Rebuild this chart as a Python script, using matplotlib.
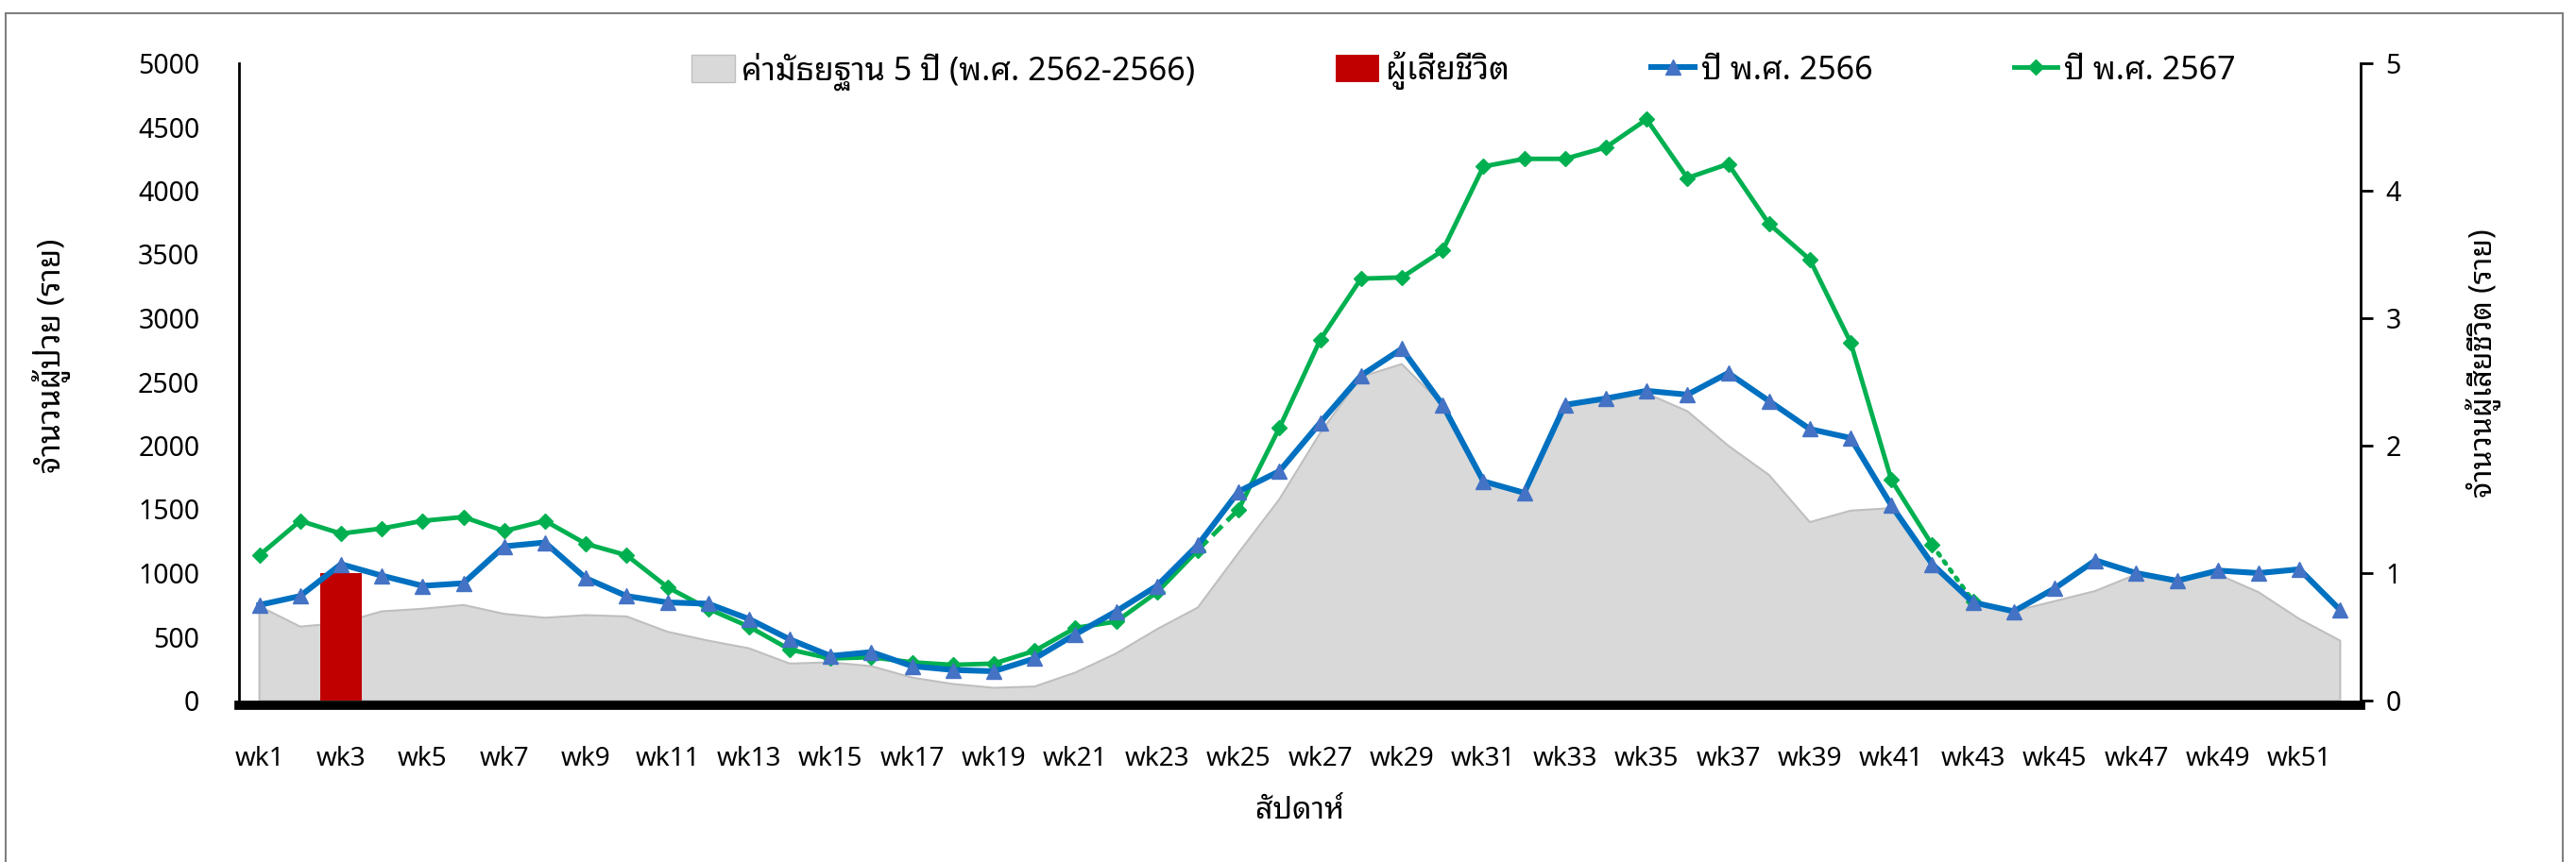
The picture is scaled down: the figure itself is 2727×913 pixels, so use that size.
import matplotlib
matplotlib.use('Agg')
import matplotlib.pyplot as plt
from matplotlib.patches import Rectangle, Patch
from matplotlib.lines import Line2D
import numpy as np

# weeks + data
weeks = ['wk%d' % i for i in range(1, 53)]
median_5y = [740, 580, 610, 700, 720, 750, 680, 650, 670, 660,
             540, 470, 410, 290, 300, 270, 180, 130, 100, 110,
             220, 370, 560, 730, 1160, 1580, 2100, 2540, 2640, 2320,
             1720, 1630, 2320, 2350, 2410, 2270, 2000, 1770, 1400, 1490,
             1510, 1060, 770, 700, 780, 860, 990, 950, 990, 850,
             640, 470]
cases_2566 = [750, 820, 1070, 980, 900, 920, 1210, 1240, 960, 820,
              770, 760, 640, 480, 350, 380, 270, 240, 230, 330,
              520, 700, 900, 1220, 1640, 1800, 2180, 2550, 2760, 2320,
              1720, 1630, 2320, 2370, 2430, 2400, 2570, 2350, 2130, 2060,
              1530, 1070, 770, 700, 880, 1100, 1000, 940, 1020, 1000,
              1030, 710]
cases_2567 = [1140, 1410, 1310, 1350, 1410, 1440, 1330, 1410, 1230, 1140,
              890, 720, 580, 400, 330, 340, 300, 280, 290, 390,
              570, 620, 850, 1180, 1500, 2140, 2830, 3310, 3320, 3530,
              4190, 4250, 4250, 4340, 4560, 4100, 4210, 3740, 3460, 2810,
              1730, 1220, 780]
deaths = [0] * 52
deaths[2] = 1

legend_labels = ['ค่ามัธยฐาน 5 ปี (พ.ศ. 2562-2566)', 'ผู้เสียชีวิต', 'ปี พ.ศ. 2566', 'ปี พ.ศ. 2567']

# latin from Noto Sans, thai glyphs fall through to the looped thai font
plt.rcParams['font.family'] = ['Noto Sans', 'Noto Sans Thai Looped', 'DejaVu Sans']

x = np.arange(1, 53)
W, H = 2727, 913

fig = plt.figure(figsize=(W/100, H/100), dpi=100)
ax = fig.add_axes([253/W, 1-742/H, 2246/W, 675/H])
ax2 = ax.twinx()
ax3 = ax.twinx()

# 5-year median area
xs = np.concatenate([x, [52, 1]])
ys = np.concatenate([median_5y, [0, 0]])
ax.fill(xs, ys, facecolor='#D9D9D9', edgecolor='#BFBFBF', lw=1.5, zorder=1)

# deaths (right axis)
ax2.bar(x, deaths, width=1.0, color='#C00000', zorder=2)

# case lines
ax3.plot(x, cases_2566, color='#0070C0', lw=4.4, marker='^', ms=11.5,
         mfc='#4472C4', mec='#4472C4', zorder=3)
x7 = x[:len(cases_2567)]
c7 = np.array(cases_2567)
g = dict(color='#00B050', lw=3.5)
ax3.plot(x7[:24], c7[:24], **g)
ax3.plot(x7[23:25], c7[23:25], ls=(0, (3, 1.5)), **g)
ax3.plot(x7[24:42], c7[24:42], **g)
ax3.plot(x7[41:43], c7[41:43], ls=(0, (0.6, 1.6)), dash_capstyle='round', **g)
ax3.plot(x7, c7, ls='none', marker='D', ms=8, color='#00B050')

for a in (ax, ax3):
    a.set_ylim(0, 5000)
ax2.set_ylim(0, 5)
for a in (ax, ax2, ax3):
    a.set_xlim(0.5, 52.5)
ax3.axis('off')

ax.set_yticks(range(0, 5001, 500))
ax.tick_params(axis='y', length=0, pad=30, labelsize=20.5)
ax.set_xticks(x[::2])
ax.set_xticklabels(weeks[::2])
ax.tick_params(axis='x', length=0, pad=31, labelsize=20)
ax2.set_yticks(range(0, 6))
ax2.tick_params(axis='y', length=9, width=2, pad=10, labelsize=20.5)

ax.spines['top'].set_visible(False)
ax2.spines['top'].set_visible(False)
ax.spines['right'].set_visible(False)
ax2.spines['left'].set_visible(False)
ax2.spines['bottom'].set_visible(False)
ax.spines['left'].set_linewidth(2)
ax2.spines['right'].set_linewidth(2)
ax.spines['bottom'].set_linewidth(7)
ax.spines['bottom'].set_position(('outward', 3.6))
ax.spines['bottom'].set_zorder(10)

ax.set_ylabel('จำนวนผู้ป่วย (ราย)', fontsize=24)
ax.yaxis.set_label_coords(-0.0793, 0.541)
ax2.set_ylabel('จำนวนผู้เสียชีวิต (ราย)', fontsize=23, rotation=90)
ax2.yaxis.set_label_coords(1.0494, 0.530)
ax.set_xlabel('สัปดาห์', fontsize=23)
ax.xaxis.set_label_coords(0.5, -0.148)

handles = [Patch(facecolor='#D9D9D9', edgecolor='#BFBFBF'),
           Patch(facecolor='#C00000'),
           Line2D([], [], color='#0070C0', lw=4.4, marker='^', ms=11.5, mfc='#4472C4', mec='#4472C4'),
           Line2D([], [], color='#00B050', lw=3.5, marker='D', ms=8)]
fig.legend(handles, legend_labels, loc='center', bbox_to_anchor=(1549/W, 1-75/H),
           ncol=4, frameon=False, fontsize=24.5, columnspacing=4.4,
           handlelength=1.35, handleheight=0.9, handletextpad=0.2)

# thin chart border (bottom edge runs off the image)
fig.add_artist(Rectangle((6/W, -0.02), 2707/W, 1.02-14/H, transform=fig.transFigure,
                         fill=False, edgecolor='#808080', lw=1.5))

fig.savefig('out.png', dpi=100)
